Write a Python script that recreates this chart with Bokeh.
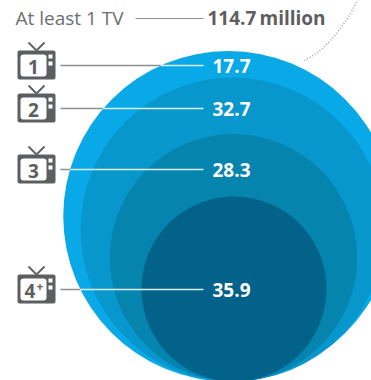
from bokeh.core.properties import value
from bokeh.embed import file_html
from bokeh.models import Range1d
from bokeh.plotting import figure
from bokeh.resources import INLINE
import math

# Households in millions, by number of TV sets
tv_labels = ["1", "2", "3", "4+"]
households = [17.7, 32.7, 28.3, 35.9]
total_label = "At least 1 TV"
total_value = "114.7"
total_unit = "million"

FONT = value("Open Sans")
GREY = "#5d5e60"
circle_colors = ["#08a9e6", "#0897cc", "#0584ae", "#03628a"]

W, H = 371, 380
p = figure(width=W, height=H, output_backend="svg", toolbar_location=None,
           x_range=Range1d(0, W), y_range=Range1d(H, 0), min_border=0)
p.axis.visible = False
p.grid.visible = False
p.outline_line_color = None
p.background_fill_color = "white"

# Nested circles: area follows the cumulative count, all resting on one bottom point
scale = 92.5 / math.sqrt(households[3])
bottom = 381
centre_x = [228, 232, 233, 233.5]
cumulative = [sum(households[i:]) for i in range(4)]
radii = [scale * math.sqrt(c) for c in cumulative]
centre_y = [bottom - r for r in radii]
p.circle(x=centre_x, y=centre_y, radius=radii, fill_color=circle_colors, line_color=None)

# Dotted arc that leads away from the top right of the outer circle
p.bezier(x0=[304], y0=[60], x1=[357], y1=[0], cx0=[328], cy0=[48], cx1=[346], cy1=[22],
         line_color="#8a8c8e", line_width=1.2, line_dash="1 2")

# TV icons, leader lines and value labels
row_y = [65, 108, 169, 289]
icon_left, icon_right = 17, 55
for i, (label, val, y) in enumerate(zip(tv_labels, households, row_y)):
    top, bot = y - 15, y + 14
    # antenna
    p.segment(x0=[36, 36], y0=[top, top], x1=[28, 44], y1=[top - 8, top - 8],
              line_color=GREY, line_width=1.8)
    # cabinet, screen and two buttons
    p.quad(left=[icon_left], right=[icon_right], top=[top], bottom=[bot],
           fill_color=GREY, line_color=None, border_radius=2)
    p.quad(left=[icon_left + 3], right=[icon_left + 29], top=[top + 4], bottom=[bot - 3],
           fill_color="white", line_color=None, border_radius=3)
    p.quad(left=[icon_left + 31, icon_left + 31], right=[icon_left + 35, icon_left + 35],
           top=[top + 4, top + 11], bottom=[top + 8, top + 15],
           fill_color="white", line_color=None)
    # screen digit; a trailing plus sits raised beside it
    digit, plus = label[0], label[1:]
    digit_x = icon_left + (12.5 if plus else 16)
    p.text(x=[digit_x], y=[y + 1], text=[digit], text_font=FONT, text_font_style="bold",
           text_font_size="19px", text_color=GREY, text_align="center", text_baseline="middle")
    if plus:
        p.text(x=[icon_left + 22.5], y=[y - 3], text=[plus], text_font=FONT, text_font_style="bold",
               text_font_size="12px", text_color=GREY, text_align="center", text_baseline="middle")

    # leader: grey on the white page, pale once it enters the outer circle
    dy = y - centre_y[0]
    edge = centre_x[0] - math.sqrt(max(radii[0] ** 2 - dy ** 2, 0))
    p.segment(x0=[60], y0=[y], x1=[edge], y1=[y], line_color="#8d8f91", line_width=1.4)
    p.segment(x0=[edge], y0=[y], x1=[203], y1=[y], line_color="#d9eef6", line_width=1.4)
    p.text(x=[212], y=[y + 0.5], text=[f"{val}"], text_font=FONT, text_font_style="bold",
           text_font_size="19px", text_color="white", text_align="left", text_baseline="middle")

# Headline row
p.text(x=[15], y=[17.5], text=[total_label], text_font=FONT, text_font_size="19px",
       text_color="#6d6e71", text_align="left", text_baseline="middle")
p.segment(x0=[135], y0=[18], x1=[203], y1=[18], line_color="#8d8f91", line_width=1.2)
p.text(x=[207], y=[17.5], text=[total_value], text_font=FONT, text_font_style="bold",
       text_font_size="19px", text_color=GREY, text_align="left", text_baseline="middle")
p.text(x=[259], y=[17.5], text=[total_unit], text_font=FONT, text_font_style="bold",
       text_font_size="19px", text_color=GREY, text_align="left", text_baseline="middle")

open("out.html", "w").write(file_html(p, INLINE))
